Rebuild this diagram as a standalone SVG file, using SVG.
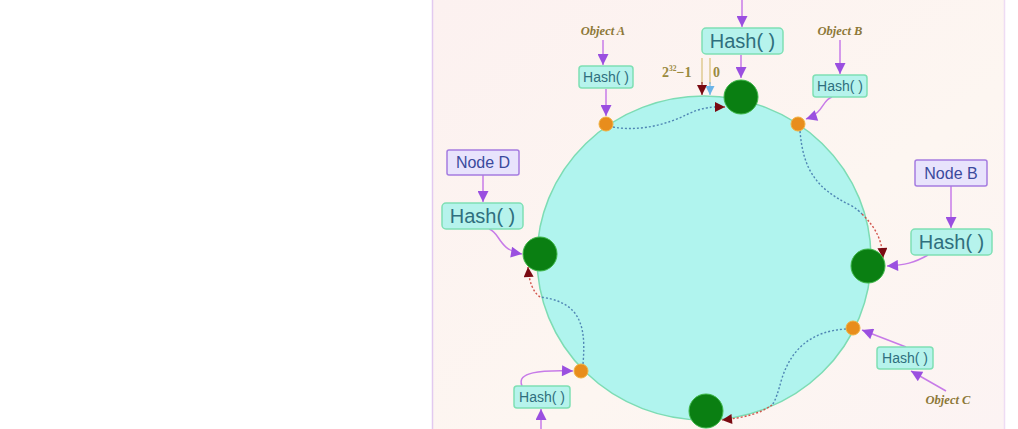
<svg xmlns="http://www.w3.org/2000/svg" width="1018" height="429" viewBox="0 0 1018 429">
<defs>
<marker id="ap" viewBox="0 0 10 10" refX="10" refY="5" markerWidth="13" markerHeight="11" markerUnits="userSpaceOnUse" orient="auto"><path d="M0,0 L10,5 L0,10 Z" fill="#9a4fe0"/></marker>
<marker id="ar" viewBox="0 0 10 10" refX="10" refY="5" markerWidth="13" markerHeight="10" markerUnits="userSpaceOnUse" orient="auto"><path d="M0,0 L10,5 L0,10 Z" fill="#7a0a12"/></marker>
<marker id="ab" viewBox="0 0 10 10" refX="10" refY="5" markerWidth="12" markerHeight="9" markerUnits="userSpaceOnUse" orient="auto"><path d="M0,0 L10,5 L0,10 Z" fill="#6ab4e8"/></marker>
<linearGradient id="bg" x1="0" y1="0" x2="1" y2="1"><stop offset="0" stop-color="#fcf1f0"/><stop offset="0.6" stop-color="#fdf6f1"/><stop offset="1" stop-color="#fcf3f3"/></linearGradient>
</defs>
<style>
.hb{fill:#b6f3ec;stroke:#7fe0b4;stroke-width:1.5}
.nb{fill:#e8e3fc;stroke:#a57ce0;stroke-width:1.5}
.ht{font-family:"Liberation Sans",Arial,sans-serif;fill:#2f6f7e;text-anchor:middle}
.nt{font-family:"Liberation Sans",Arial,sans-serif;fill:#3b4a9c;text-anchor:middle;font-size:16px}
.ot{font-family:"Liberation Serif","Times New Roman",serif;font-style:italic;font-weight:bold;fill:#8d7838;font-size:12.5px;text-anchor:middle}
.pl{fill:none;stroke:#c77be8;stroke-width:1.5}
.bd{fill:none;stroke:#4f86b4;stroke-width:1.4;stroke-dasharray:2 2}
.rd{fill:none;stroke:#d0544c;stroke-width:1.4;stroke-dasharray:2 2}
.gn{fill:#0a7f12;stroke:#3fb84a;stroke-width:1}
.od{fill:#e88d1c;stroke:#f0b040;stroke-width:1}
</style>
<rect x="0" y="0" width="1018" height="429" fill="#ffffff"/>
<rect x="432" y="0" width="572" height="429" fill="url(#bg)"/>
<line x1="432.5" y1="0" x2="432.5" y2="429" stroke="#e2c9f0" stroke-width="1.5"/>
<line x1="1004.5" y1="0" x2="1004.5" y2="429" stroke="#eedcf4" stroke-width="1.5"/>

<g id="ring">
<ellipse cx="704" cy="258" rx="167" ry="162" fill="#b0f4ee" stroke="#7ddcb4" stroke-width="1.5"/>
</g>

<g id="connectors">
<line class="pl" x1="742" y1="0" x2="742" y2="27" marker-end="url(#ap)"/>
<line class="pl" x1="741" y1="55" x2="741" y2="78" marker-end="url(#ap)"/>
<line class="pl" x1="603" y1="40" x2="603" y2="65" marker-end="url(#ap)"/>
<line class="pl" x1="606" y1="89" x2="606" y2="116" marker-end="url(#ap)"/>
<line class="pl" x1="840" y1="40" x2="840" y2="74" marker-end="url(#ap)"/>
<path class="pl" d="M832 97 C822 100 824 113 806 119" marker-end="url(#ap)"/>
<line class="pl" x1="483" y1="175" x2="483" y2="202" marker-end="url(#ap)"/>
<path class="pl" d="M489 229 C500 232 498 250 522 254" marker-end="url(#ap)"/>
<line class="pl" x1="951" y1="186" x2="951" y2="228" marker-end="url(#ap)"/>
<path class="pl" d="M928 255 C914 263 905 265 887 266" stroke="#e6c87a" marker-end="url(#ap)"/>
<line class="pl" x1="946" y1="391" x2="911" y2="371" marker-end="url(#ap)"/>
<line class="pl" x1="906" y1="347" x2="862" y2="330" marker-end="url(#ap)"/>
<line class="pl" x1="541" y1="429" x2="541" y2="409" marker-end="url(#ap)"/>
<path class="pl" d="M522 386 C516 372 540 370 573 371" marker-end="url(#ap)"/>

<line x1="702" y1="58" x2="702" y2="84" stroke="#d8c07a" stroke-width="1.2"/>
<line x1="710" y1="58" x2="710" y2="84" stroke="#d8c07a" stroke-width="1.2"/>
<line x1="702" y1="82" x2="702" y2="95" stroke="#7a0a12" stroke-width="1" marker-end="url(#ar)"/>
<line x1="710" y1="82" x2="710" y2="95" stroke="#6ab4e8" stroke-width="1" marker-end="url(#ab)"/>

<path class="bd" d="M613 127 C640 132 668 124 688 114 C700 108 712 107 716 107"/>
<path class="rd" d="M716 107 L725 107" marker-end="url(#ar)"/>
<path class="bd" d="M800 131 C803 168 815 188 850 205 C856 208 860 212 862 214"/>
<path class="rd" d="M862 214 C876 228 882 240 883 258" marker-end="url(#ar)"/>
<path class="bd" d="M846 329 C812 331 792 348 782 378 C778 392 776 400 772 405"/>
<path class="rd" d="M772 405 C760 414 742 418 722 420" marker-end="url(#ar)"/>
<path class="bd" d="M583 364 C585 340 584 320 570 308 C560 300 548 298 540 297"/>
<path class="rd" d="M540 297 C533 292 529 282 528 267" marker-end="url(#ar)"/>
</g>

<g id="object-a"><text class="ot" x="603" y="35">Object A</text></g>
<g id="object-b"><text class="ot" x="840" y="35">Object B</text></g>
<g id="object-c"><text class="ot" x="948" y="404">Object C</text></g>
<g id="range-label">
<text x="662" y="77" font-family="'Liberation Serif','Times New Roman',serif" font-weight="bold" font-size="14" fill="#9a8a40">2<tspan font-size="7.5" dy="-6">32</tspan><tspan dy="6">−1</tspan></text>
<text x="713" y="77" font-family="'Liberation Serif','Times New Roman',serif" font-weight="bold" font-size="14" fill="#9a8a40">0</text>
</g>

<g id="hash-top"><rect class="hb" x="702" y="28" width="81" height="26" rx="4"/><text class="ht" x="742.5" y="48" font-size="20">Hash( )</text></g>
<g id="hash-a"><rect class="hb" x="579" y="66" width="54" height="22" rx="3"/><text class="ht" x="606" y="82" font-size="14">Hash( )</text></g>
<g id="hash-b"><rect class="hb" x="813" y="75" width="54" height="22" rx="3"/><text class="ht" x="840" y="91" font-size="14">Hash( )</text></g>
<g id="node-d"><rect class="nb" x="447" y="150" width="72" height="25" rx="2"/><text class="nt" x="483" y="168">Node D</text></g>
<g id="hash-d"><rect class="hb" x="442" y="203" width="81" height="26" rx="4"/><text class="ht" x="482.5" y="223" font-size="20">Hash( )</text></g>
<g id="node-b"><rect class="nb" x="915" y="160" width="72" height="26" rx="2"/><text class="nt" x="951" y="179">Node B</text></g>
<g id="hash-nb"><rect class="hb" x="911" y="229" width="81" height="26" rx="4"/><text class="ht" x="951.5" y="249" font-size="20">Hash( )</text></g>
<g id="hash-c"><rect class="hb" x="877" y="347" width="56" height="22" rx="3"/><text class="ht" x="905" y="363" font-size="14">Hash( )</text></g>
<g id="hash-ll"><rect class="hb" x="514" y="386" width="56" height="22" rx="3"/><text class="ht" x="542" y="402" font-size="14">Hash( )</text></g>

<g id="node-top"><circle class="gn" cx="741" cy="97" r="17"/></g>
<g id="node-right"><circle class="gn" cx="868" cy="266" r="17"/></g>
<g id="node-bottom"><circle class="gn" cx="706" cy="411" r="17"/></g>
<g id="node-left"><circle class="gn" cx="540" cy="254" r="17"/></g>
<g id="point-a"><circle class="od" cx="606" cy="124" r="7"/></g>
<g id="point-b"><circle class="od" cx="798" cy="124" r="7"/></g>
<g id="point-c"><circle class="od" cx="853" cy="328" r="7"/></g>
<g id="point-d"><circle class="od" cx="581" cy="371" r="7"/></g>
</svg>
